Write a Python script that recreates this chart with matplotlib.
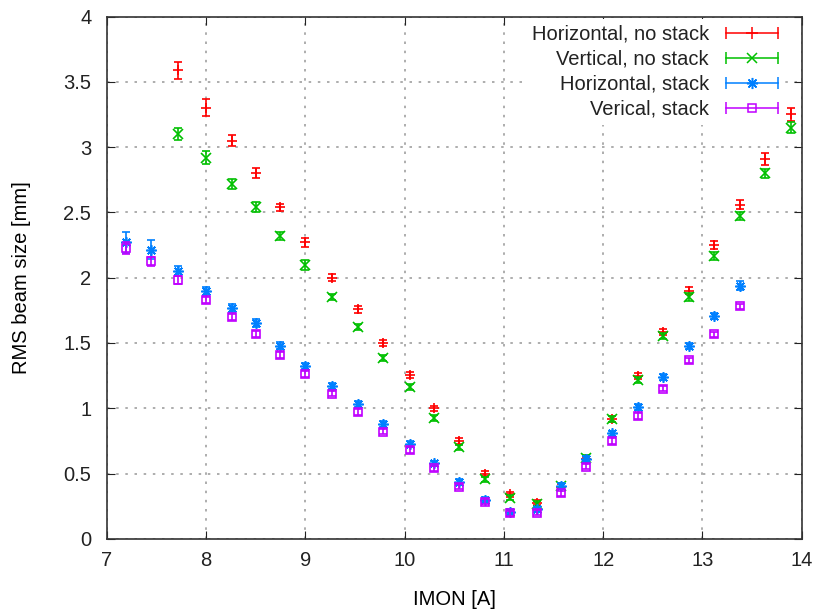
import matplotlib
matplotlib.use('Agg')
import matplotlib.pyplot as plt
from matplotlib.lines import Line2D
from matplotlib.legend_handler import HandlerBase

plt.rcParams['font.family'] = ['Liberation Sans', 'DejaVu Sans']
plt.rcParams['font.size'] = 14.5

# IMON [A]
x_all = [7.2, 7.45, 7.72, 8.0, 8.26, 8.5, 8.75, 9.0, 9.27, 9.53, 9.78, 10.05, 10.3,
         10.55, 10.81, 11.06, 11.33, 11.58, 11.83, 12.09, 12.35, 12.6, 12.86, 13.12,
         13.38, 13.63, 13.89]

# no stack: 7.72 .. 13.89
x_nostack = x_all[2:]
h_nostack = [3.59, 3.30, 3.05, 2.80, 2.54, 2.27, 2.00, 1.757, 1.497, 1.254, 1.00, 0.75,
             0.50, 0.342, 0.278, 0.40, 0.61, 0.92, 1.246, 1.585, 1.90, 2.25, 2.56, 2.91, 3.25]
h_nostack_err = [0.065, 0.065, 0.04, 0.038, 0.027, 0.032, 0.028, 0.025, 0.022, 0.022, 0.02,
                 0.02, 0.02, 0.02, 0.02, 0.02, 0.02, 0.022, 0.022, 0.022, 0.027, 0.03,
                 0.035, 0.048, 0.05]
v_nostack = [3.10, 2.92, 2.72, 2.54, 2.32, 2.096, 1.853, 1.624, 1.387, 1.165, 0.928, 0.70,
             0.457, 0.316, 0.27, 0.405, 0.62, 0.92, 1.216, 1.553, 1.85, 2.165, 2.47, 2.80, 3.15]
v_nostack_err = [0.047, 0.053, 0.038, 0.038, 0.028, 0.038, 0.025, 0.025, 0.022, 0.022, 0.022,
                 0.022, 0.02, 0.02, 0.02, 0.02, 0.02, 0.022, 0.022, 0.025, 0.03, 0.033,
                 0.032, 0.036, 0.045]

# stack: 7.2 .. 13.38
x_stack = x_all[:25]
h_stack = [2.27, 2.215, 2.05, 1.90, 1.767, 1.65, 1.48, 1.323, 1.17, 1.03, 0.882, 0.724,
           0.579, 0.436, 0.30, 0.209, 0.227, 0.405, 0.614, 0.808, 1.01, 1.24, 1.476,
           1.705, 1.94]
h_stack_err = [0.083, 0.073, 0.036, 0.03, 0.03, 0.03, 0.025, 0.025, 0.025, 0.022, 0.022,
               0.022, 0.02, 0.02, 0.02, 0.02, 0.02, 0.02, 0.02, 0.02, 0.02, 0.02, 0.022,
               0.025, 0.035]
v_stack = [2.23, 2.126, 1.98, 1.83, 1.70, 1.57, 1.407, 1.264, 1.111, 0.971, 0.82, 0.68,
           0.54, 0.40, 0.285, 0.194, 0.20, 0.35, 0.553, 0.75, 0.94, 1.15, 1.367, 1.566, 1.78]
v_stack_err = [0.045, 0.035, 0.03, 0.025, 0.025, 0.022, 0.022, 0.022, 0.02, 0.02, 0.02,
               0.02, 0.02, 0.02, 0.02, 0.02, 0.02, 0.02, 0.02, 0.02, 0.02, 0.02, 0.02,
               0.02, 0.02]

labels = ['Horizontal, no stack', 'Vertical, no stack', 'Horizontal, stack', 'Verical, stack']
colors = ['#ff0000', '#00c000', '#0080ff', '#c000ff']
markers = ['+', 'x', (8, 2, 0), 's']
msizes = [7.5, 7, 7.5, 5.5]


class GnuplotHandler(HandlerBase):
    # horizontal line with end caps and marker in the middle (gnuplot style key)
    def __init__(self, color, marker, ms):
        super().__init__()
        self.color = color
        self.marker = marker
        self.ms = ms

    def create_artists(self, legend, orig_handle, xdescent, ydescent, width, height,
                       fontsize, trans):
        y = height / 2 - ydescent
        x0, x1 = -xdescent, -xdescent + width
        line = Line2D([x0, x1], [y, y], color=self.color, lw=1.1,
                      marker='|', markersize=8, markeredgewidth=1.1)
        mid = Line2D([(x0 + x1) / 2], [y], color=self.color, marker=self.marker,
                     markersize=self.ms + 0.5, markerfacecolor='none',
                     markeredgewidth=1.1, lw=0)
        line.set_transform(trans)
        mid.set_transform(trans)
        return [line, mid]


fig = plt.figure(figsize=(8.14, 6.13), dpi=100)
ax = fig.add_axes([0.131, 0.121, 0.854, 0.852])

series = [(x_nostack, h_nostack, h_nostack_err), (x_nostack, v_nostack, v_nostack_err),
          (x_stack, h_stack, h_stack_err), (x_stack, v_stack, v_stack_err)]
handles = []
for (xs, ys, es), c, m, ms in zip(series, colors, markers, msizes):
    h = ax.errorbar(xs, ys, yerr=es, fmt='none', ecolor=c, elinewidth=1.2,
                    capsize=3.2, capthick=1.2, zorder=6)
    ax.plot(xs, ys, ls='none', marker=m, color=c, markersize=ms,
            markerfacecolor='none', markeredgewidth=1.2, zorder=6)
    handles.append(h)

ax.set_xlim(7, 14)
ax.set_ylim(0, 4)
ax.set_xticks(range(7, 15))
ax.set_yticks([0, 0.5, 1, 1.5, 2, 2.5, 3, 3.5, 4])
ax.set_yticklabels(['0', '0.5', '1', '1.5', '2', '2.5', '3', '3.5', '4'])
ax.grid(True, color='#a0a0a0', ls=(0, (1.5, 4)), lw=1.2)
ax.set_axisbelow(True)
ax.tick_params(axis='y', direction='in', length=6, right=True, pad=11, colors='#222222')
ax.tick_params(axis='x', direction='in', length=6, top=True, pad=9, colors='#222222')
for s in ax.spines.values():
    s.set_color('#333333')
    s.set_linewidth(1.2)

ax.set_xlabel('IMON [A]', labelpad=14)
ax.set_ylabel('RMS beam size [mm]', labelpad=23)

hmap = {h: GnuplotHandler(c, m, ms) for h, c, m, ms in zip(handles, colors, markers, msizes)}
leg = ax.legend(handles, labels, loc='upper right', bbox_to_anchor=(0.978, 1.0),
                markerfirst=False, frameon=True, handler_map=hmap, handlelength=2.6,
                handletextpad=0.85, labelspacing=0.3, borderaxespad=0.1, fancybox=False,
                edgecolor='none', framealpha=1, borderpad=0.3)
leg.set_zorder(5)
for t in leg.get_texts():
    t.set_color('#222222')

fig.savefig('out.png', dpi=100)
